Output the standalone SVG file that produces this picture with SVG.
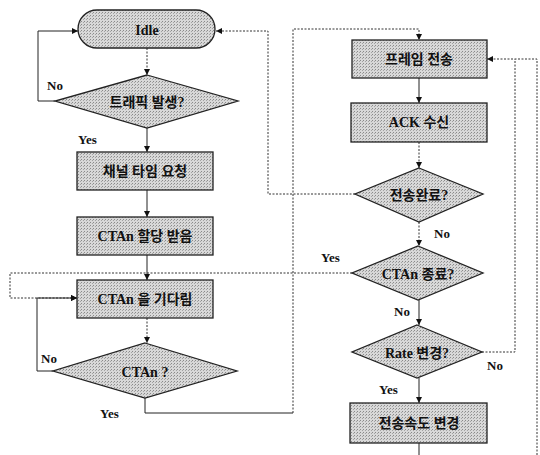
<svg xmlns="http://www.w3.org/2000/svg" width="540" height="455" viewBox="0 0 540 455">
<defs>
<marker id="ah" viewBox="0 0 10 10" refX="10" refY="5" markerWidth="6" markerHeight="6" orient="auto" markerUnits="userSpaceOnUse">
<path d="M0,0 L10,5 L0,10 z" fill="#111"/>
</marker>
<pattern id="ht" width="3" height="3" patternUnits="userSpaceOnUse">
<rect width="3" height="3" fill="#d8d8d8"/>
<rect width="1" height="1" fill="#8a8a8a"/>
<rect x="2" y="1" width="1" height="1" fill="#a4a4a4"/>
</pattern>
</defs>
<style>
.shape{fill:url(#ht);stroke:#222;stroke-width:1.3}
.t{font-family:"Liberation Serif","Noto Sans CJK KR",serif;font-weight:bold;font-size:14px;fill:#111;text-anchor:middle;dominant-baseline:central}
.lbl{font-family:"Liberation Serif","Noto Sans CJK KR",serif;font-weight:bold;font-size:13px;fill:#111}
.s{fill:none;stroke:#222;stroke-width:1}
.d{fill:none;stroke:#333;stroke-width:1;stroke-dasharray:2,1.5}
</style>
<rect width="540" height="455" fill="#fff"/>
<g id="connectors">
<path class="d" d="M147,48 V75" marker-end="url(#ah)"/>
<path class="s" d="M55,101 H38 V31 H78" marker-end="url(#ah)"/>
<path class="s" d="M147,128 V152" marker-end="url(#ah)"/>
<path class="s" d="M147,190 V217" marker-end="url(#ah)"/>
<path class="s" d="M147,255 V280" marker-end="url(#ah)"/>
<path class="d" d="M352,273 H10 V298 H77" marker-end="url(#ah)"/>
<path class="d" d="M147,318 V343" marker-end="url(#ah)"/>
<path class="s" d="M53,371 H37 V298 H77" marker-end="url(#ah)"/>
<path class="s" d="M145,398 V413 H293"/>
<path class="d" d="M293,413 V29 H419 V40" marker-end="url(#ah)"/>
<path class="s" d="M419,78 V103" marker-end="url(#ah)"/>
<path class="d" d="M419,142 V168" marker-end="url(#ah)"/>
<path class="d" d="M355,194 H268 V31 H216" marker-end="url(#ah)"/>
<path class="d" d="M419,222 V246" marker-end="url(#ah)"/>
<path class="s" d="M419,300 V325" marker-end="url(#ah)"/>
<path class="d" d="M482,352 H515 V59"/>
<path class="d" d="M537,455 V59 H487" marker-end="url(#ah)"/>
<path class="s" d="M419,378 V403" marker-end="url(#ah)"/>
<path class="s" d="M419,443 V455"/>
</g>
<g id="idle">
<rect class="shape" x="78" y="10" width="137" height="38" rx="19" ry="19"/>
<text class="t" x="147" y="30">Idle</text>
</g>
<g id="traffic">
<polygon class="shape" points="147,75 238,101 147,128 55,101"/>
<text class="t" x="147" y="102">트래픽 발생?</text>
</g>
<g id="channel">
<rect class="shape" x="77" y="152" width="136" height="38"/>
<text class="t" x="145" y="171">채널 타임 요청</text>
</g>
<g id="alloc">
<rect class="shape" x="77" y="217" width="136" height="38"/>
<text class="t" x="145" y="236">CTAn 할당 받음</text>
</g>
<g id="wait">
<rect class="shape" x="77" y="280" width="136" height="38"/>
<text class="t" x="145" y="299">CTAn 을 기다림</text>
</g>
<g id="ctan">
<polygon class="shape" points="145,343 237,371 145,398 53,371"/>
<text class="t" x="145" y="372">CTAn ?</text>
</g>
<g id="frame">
<rect class="shape" x="352" y="40" width="135" height="38"/>
<text class="t" x="419" y="59">프레임 전송</text>
</g>
<g id="ack">
<rect class="shape" x="351" y="103" width="136" height="39"/>
<text class="t" x="419" y="122">ACK 수신</text>
</g>
<g id="done">
<polygon class="shape" points="419,168 483,194 419,222 355,194"/>
<text class="t" x="419" y="195">전송완료?</text>
</g>
<g id="ctanend">
<polygon class="shape" points="418,246 483,273 418,300 352,273"/>
<text class="t" x="418" y="274">CTAn 종료?</text>
</g>
<g id="rate">
<polygon class="shape" points="417,325 482,352 417,378 352,352"/>
<text class="t" x="417" y="353">Rate 변경?</text>
</g>
<g id="speed">
<rect class="shape" x="350" y="403" width="137" height="40"/>
<text class="t" x="419" y="423">전송속도 변경</text>
</g>
<g id="labels">
<text class="lbl" x="47" y="90">No</text>
<text class="lbl" x="78" y="144">Yes</text>
<text class="lbl" x="41" y="363">No</text>
<text class="lbl" x="100" y="418">Yes</text>
<text class="lbl" x="434" y="238">No</text>
<text class="lbl" x="321" y="262">Yes</text>
<text class="lbl" x="394" y="316">No</text>
<text class="lbl" x="487" y="370">No</text>
<text class="lbl" x="379" y="394">Yes</text>
</g>
</svg>
